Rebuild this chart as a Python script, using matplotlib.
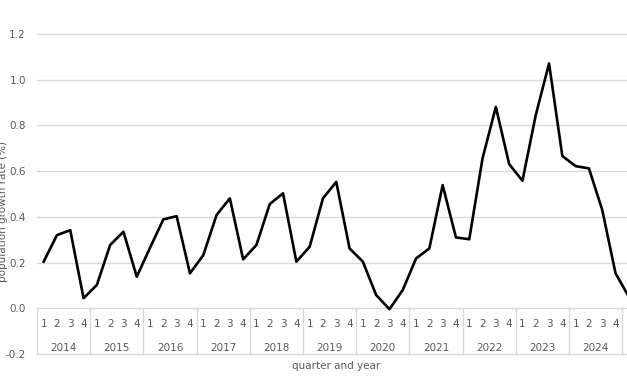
import matplotlib.pyplot as plt

years = ['2014', '2015', '2016', '2017', '2018', '2019', '2020',
         '2021', '2022', '2023', '2024']
quarters = ['1', '2', '3', '4']

# quarterly growth, 2014 Q1 .. 2025 Q1
growth = [0.204, 0.320, 0.342, 0.044,
          0.102, 0.277, 0.335, 0.138,
          0.265, 0.389, 0.403, 0.153,
          0.232, 0.408, 0.481, 0.214,
          0.277, 0.456, 0.503, 0.204,
          0.269, 0.481, 0.553, 0.262,
          0.204, 0.058, -0.004, 0.080,
          0.218, 0.262, 0.539, 0.310,
          0.302, 0.656, 0.881, 0.631,
          0.558, 0.845, 1.071, 0.666,
          0.622, 0.612, 0.430, 0.153,
          0.050]

W, H = 627, 376
grid_col = '#d9d9d9'
txt_col = '#595959'
fs = 7.5

fig = plt.figure(figsize=(W / 100, H / 100), dpi=100)
n = len(growth)
slot = 13.3
left, right = 37, 37 + slot * n
top, bottom = 34, 354
ax = fig.add_axes([left / W, (H - bottom) / H, (right - left) / W, (bottom - top) / H])

ax.set_xlim(-0.5, n - 0.5)
ax.set_ylim(-0.2, 1.2)
for s in ax.spines.values():
    s.set_visible(False)

yt = [-0.2, 0.0, 0.2, 0.4, 0.6, 0.8, 1.0, 1.2]
ax.set_yticks(yt)
ax.set_yticklabels([f'{v:.1f}' for v in yt])
ax.tick_params(axis='y', length=0, pad=8, labelsize=fs, labelcolor=txt_col)
ax.set_xticks([])
for v in yt:
    ax.axhline(v, color=grid_col, lw=1, zorder=0, clip_on=False)

# category table under the zero line
for k in range(len(years) + 1):
    xs = 4 * k - 0.5
    ax.plot([xs, xs], [-0.2, 0.0], color=grid_col, lw=1, zorder=0, clip_on=False)

x = list(range(n))
for i in x:
    ax.text(i, -0.068, quarters[i % 4], ha='center', va='center',
            fontsize=fs, color=txt_col, clip_on=False)
for k, yr in enumerate(years):
    ax.text(4 * k + 1.5, -0.172, yr, ha='center', va='center',
            fontsize=fs, color=txt_col, clip_on=False)

ax.plot(x, growth, color='black', lw=1.9, zorder=3, clip_on=False)

fig.text((left + right) / 2 / W, (H - 366) / H, 'quarter and year',
         ha='center', va='center', fontsize=fs, color=txt_col)
fig.text(8 / W, (H - 212) / H, 'population growth rate (%)', rotation=90,
         ha='right', va='center', fontsize=fs, color=txt_col)

fig.savefig('out.png', dpi=100)
